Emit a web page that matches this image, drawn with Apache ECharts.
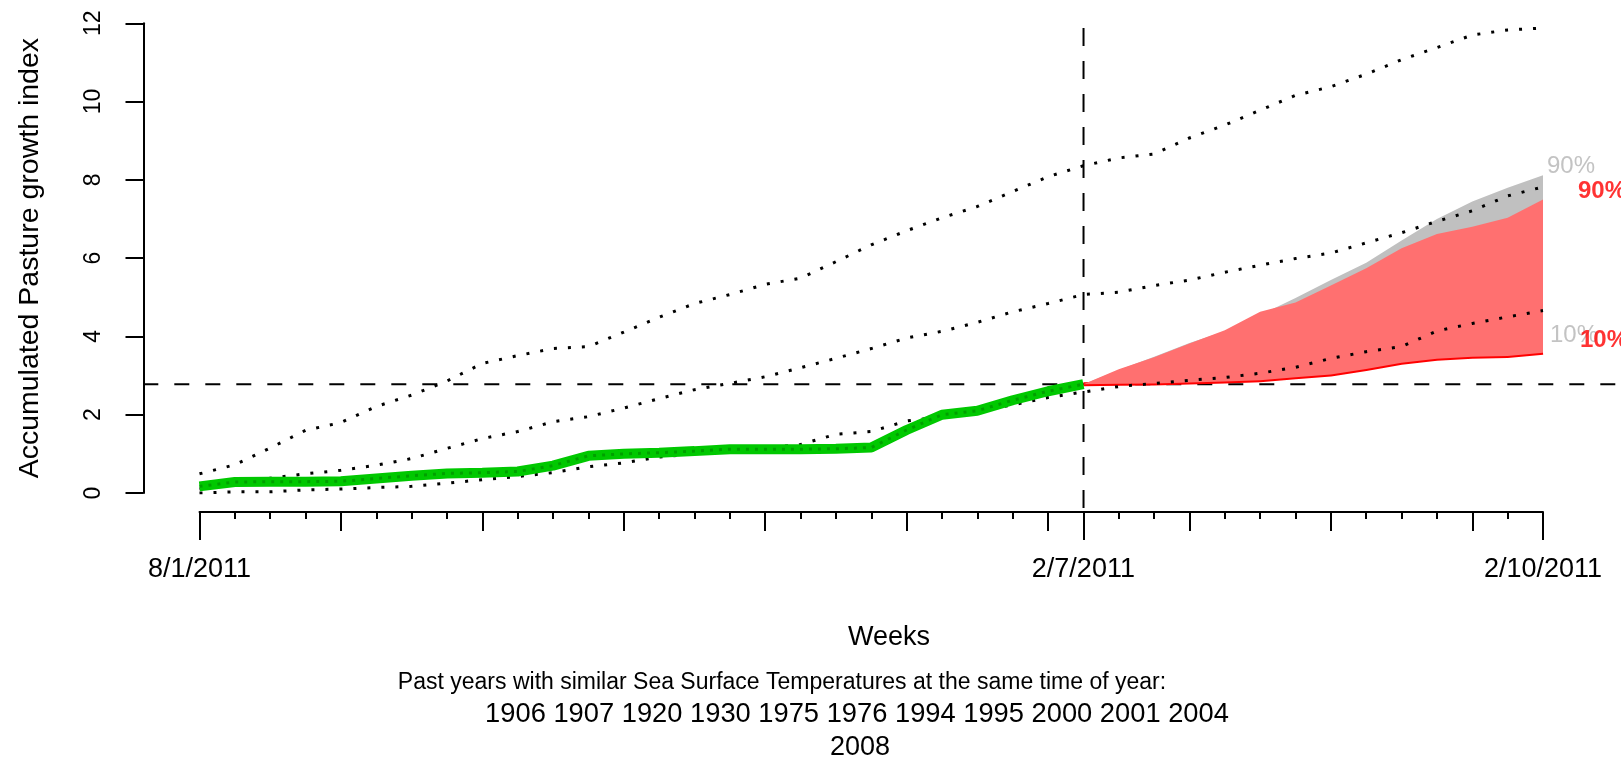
<!DOCTYPE html>
<html>
<head>
<meta charset="utf-8">
<script src="https://cdn.jsdelivr.net/npm/echarts@6/dist/echarts.min.js"></script>
<style>
html,body{margin:0;padding:0;background:#fff;}
#chart{width:1621px;height:762px;}
</style>
</head>
<body>
<div id="chart"></div>
<script>
// ---------- data ----------
const weeks = [0,1,2,3,4,5,6,7,8,9,10,11,12,13,14,15,16,17,18,19,20,21,22,23,24,25,26,27,28,29,30,31,32,33,34,35,36,37,38];
const tickLabelIndex = [0, 25, 38];
const tickLabels = ['8/1/2011', '2/7/2011', '2/10/2011'];

// observed accumulated index (green), weeks 0..25
const observed = [0.17,0.28,0.29,0.29,0.30,0.37,0.44,0.50,0.52,0.55,0.70,0.95,1.00,1.03,1.07,1.12,1.12,1.12,1.13,1.16,1.61,2.00,2.10,2.37,2.60,2.78];

// dotted reference curves, weeks 0..38
const upperCurve = [0.49,0.72,1.15,1.60,1.80,2.21,2.50,2.86,3.31,3.51,3.69,3.74,4.11,4.49,4.84,5.07,5.33,5.49,5.91,6.34,6.70,7.03,7.32,7.70,8.08,8.36,8.56,8.66,9.07,9.40,9.78,10.16,10.38,10.70,11.07,11.38,11.70,11.83,11.88];
const middleCurve = [0.10,0.22,0.38,0.49,0.58,0.71,0.88,1.14,1.39,1.57,1.82,1.95,2.17,2.41,2.64,2.80,2.97,3.20,3.44,3.69,3.96,4.13,4.36,4.63,4.84,5.07,5.13,5.30,5.44,5.64,5.82,5.99,6.13,6.39,6.65,6.94,7.21,7.59,7.82];
const lowerCurve = [0.00,0.03,0.03,0.08,0.10,0.14,0.17,0.25,0.34,0.42,0.52,0.67,0.77,0.92,1.00,1.07,1.15,1.24,1.50,1.57,1.84,1.95,2.10,2.25,2.44,2.58,2.72,2.80,2.88,2.95,3.06,3.21,3.44,3.61,3.74,4.14,4.33,4.50,4.66];

// forecast percentiles, weeks 25..38
const forecastStart = 25;
const grey90 = [2.78,3.14,3.48,3.83,4.13,4.55,4.98,5.44,5.88,6.45,7.00,7.45,7.80,8.12];
const grey10 = [2.78,2.78,2.79,2.81,2.84,2.88,2.95,3.02,3.15,3.31,3.42,3.46,3.49,3.57];
const red90  = [2.78,3.16,3.47,3.82,4.16,4.63,4.87,5.30,5.74,6.25,6.62,6.80,7.03,7.50];
const red10  = [2.78,2.79,2.80,2.82,2.85,2.88,2.96,3.03,3.17,3.33,3.43,3.48,3.50,3.58];

const similarYears = ['1906','1907','1920','1930','1975','1976','1994','1995','2000','2001','2004','2008'];

// ---------- helpers ----------
function pad(arr) {
  const out = weeks.map(() => null);
  arr.forEach((v, i) => { out[forecastStart + i] = v; });
  return out;
}
function diff(a, b) { return a.map((v, i) => +(v - b[i]).toFixed(3)); }

const FONT = 'Liberation Sans, Arial, sans-serif';
const refLevel = observed[observed.length - 1];
const refWeek = observed.length - 1;
const lastW = weeks[weeks.length - 1];
const topCurve = Math.max.apply(null, upperCurve);
// plot region extents of the reference-line layer
const xExt = [-1.59, 40.2];
const yExt = [-0.48, 12.48];

const dotted = { color: '#000', width: 3, type: [3, 11], cap: 'butt' };

const catAxisBase = {
  type: 'category', data: weeks, gridIndex: 0, boundaryGap: false,
  position: 'bottom', offset: 19, splitLine: { show: false }
};

const chart = echarts.init(document.getElementById('chart'), null, { renderer: 'canvas' });
chart.setOption({
  animation: false,
  backgroundColor: '#fff',
  textStyle: { fontFamily: FONT },
  grid: [
    { left: 199.5, right: 78, top: 23.3, bottom: 269, containLabel: false },
    { left: 143.3, right: 0, top: 4.5, bottom: 250, containLabel: false }
  ],
  xAxis: [
    Object.assign({}, catAxisBase, {
      axisLine: { show: true, onZero: false, lineStyle: { color: '#000', width: 2 } },
      axisTick: { show: true, interval: 0, length: 7, lineStyle: { color: '#000', width: 2 } },
      axisLabel: { show: false }
    }),
    Object.assign({}, catAxisBase, {
      axisLine: { show: false, onZero: false },
      axisTick: { show: true, interval: (i) => i % 4 === 0, length: 19, lineStyle: { color: '#000', width: 2 } },
      axisLabel: { show: false }
    }),
    Object.assign({}, catAxisBase, {
      axisLine: { show: false, onZero: false },
      axisTick: { show: true, interval: (i) => tickLabelIndex.includes(i), length: 28, lineStyle: { color: '#000', width: 2 } },
      axisLabel: {
        show: true, interval: (i) => tickLabelIndex.includes(i),
        formatter: (v, i) => tickLabels[tickLabelIndex.indexOf(i)] || '',
        color: '#000', fontSize: 27, fontFamily: FONT, margin: 44
      }
    }),
    { type: 'value', gridIndex: 1, min: xExt[0], max: xExt[1], show: false }
  ],
  yAxis: [
    {
      type: 'value', gridIndex: 0, min: 0, max: 12, interval: 2, offset: 56,
      axisLine: { show: true, onZero: false, lineStyle: { color: '#000', width: 2 } },
      axisTick: { show: true, length: 18, lineStyle: { color: '#000', width: 2 } },
      axisLabel: { rotate: 90, fontSize: 23, color: '#000', fontFamily: FONT, margin: 38 },
      splitLine: { show: false },
      name: 'Accumulated Pasture growth index', nameLocation: 'middle', nameRotate: 90, nameGap: 99,
      nameTextStyle: { fontSize: 28.5, color: '#000', fontFamily: FONT }
    },
    { type: 'value', gridIndex: 1, min: yExt[0], max: yExt[1], show: false }
  ],
  series: [
    // reference dashed lines
    { type: 'line', xAxisIndex: 3, yAxisIndex: 1, z: 1, symbol: 'none', silent: true,
      data: [[xExt[0], refLevel], [xExt[1], refLevel]],
      lineStyle: { color: '#000', width: 2, type: [15, 16] } },
    { type: 'line', xAxisIndex: 3, yAxisIndex: 1, z: 1, symbol: 'none', silent: true,
      data: [[refWeek, topCurve], [refWeek, yExt[0]]],
      lineStyle: { color: '#000', width: 2, type: [18, 15] } },
    // grey band
    { type: 'line', stack: 'grey', z: 2, symbol: 'none', data: pad(grey10),
      lineStyle: { opacity: 0 } },
    { type: 'line', stack: 'grey', z: 2, symbol: 'none', data: pad(diff(grey90, grey10)),
      lineStyle: { opacity: 0 }, areaStyle: { color: '#c0c0c0', opacity: 1 } },
    // red lower edge
    { type: 'line', z: 3, symbol: 'none', data: pad(red10),
      lineStyle: { color: '#ff0000', width: 4 } },
    // red band
    { type: 'line', stack: 'red', z: 4, symbol: 'none', data: pad(red10),
      lineStyle: { opacity: 0 } },
    { type: 'line', stack: 'red', z: 4, symbol: 'none', data: pad(diff(red90, red10)),
      lineStyle: { opacity: 0 }, areaStyle: { color: '#ff7070', opacity: 1 } },
    // dotted curves
    { type: 'line', z: 5, symbol: 'none', data: upperCurve, lineStyle: dotted },
    { type: 'line', z: 5, symbol: 'none', data: middleCurve, lineStyle: dotted },
    { type: 'line', z: 5, symbol: 'none', data: lowerCurve, lineStyle: dotted },
    // observed
    { type: 'line', z: 6, symbol: 'none', data: observed,
      lineStyle: { color: '#00c800', width: 10, cap: 'butt' } },
    { type: 'line', z: 6, symbol: 'none', data: observed, silent: true,
      lineStyle: { color: '#00a000', width: 3, type: [3, 6], cap: 'butt' } },
    // percentile labels
    { type: 'scatter', z: 7, symbolSize: 0, silent: true,
      label: { show: true, position: 'right', fontFamily: FONT, fontSize: 24 },
      data: [
        { value: [lastW, grey90[grey90.length - 1]], label: { formatter: '90%', color: '#b4b4b4', distance: 4, offset: [0, -9] } },
        { value: [lastW, red90[red90.length - 1]], label: { formatter: '90%', color: '#ff0000', fontWeight: 'bold', distance: 35, offset: [0, -8] } },
        { value: [lastW, grey10[grey10.length - 1]], label: { formatter: '10%', color: '#b4b4b4', distance: 7, offset: [0, -18] } },
        { value: [lastW, red10[red10.length - 1]], label: { formatter: '10%', color: '#ff0000', fontWeight: 'bold', distance: 37, offset: [0, -12] } }
      ] }
  ],
  graphic: [
    { type: 'text', x: 889, y: 638, style: { text: 'Weeks', font: '27px ' + FONT, fill: '#000', align: 'center', verticalAlign: 'middle' } },
    { type: 'text', x: 782, y: 683, style: { text: 'Past years with similar Sea Surface Temperatures at the same time of year:', font: '23px ' + FONT, fill: '#000', align: 'center', verticalAlign: 'middle' } },
    { type: 'text', x: 857, y: 714, style: { text: similarYears.slice(0, 11).join(' '), font: '27.3px ' + FONT, fill: '#000', align: 'center', verticalAlign: 'middle' } },
    { type: 'text', x: 860, y: 748, style: { text: similarYears.slice(11).join(' '), font: '27px ' + FONT, fill: '#000', align: 'center', verticalAlign: 'middle' } }
  ]
});
</script>
</body>
</html>
